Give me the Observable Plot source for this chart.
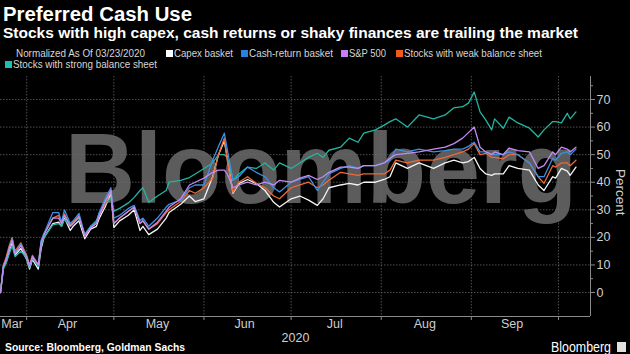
<!DOCTYPE html>
<html><head><meta charset="utf-8">
<script src="https://cdn.jsdelivr.net/npm/d3@7"></script>
<script src="https://cdn.jsdelivr.net/npm/@observablehq/plot@0.6"></script>
<style>
html,body{margin:0;padding:0;background:#000;width:630px;height:354px;overflow:hidden;}
#wrap{position:relative;width:630px;height:354px;font-family:"Liberation Sans",Arial,sans-serif;color:#fff;}
.abs{position:absolute;white-space:nowrap;line-height:1;transform-origin:0 50%;}
#title{top:4px;font-size:20px;font-weight:bold;}
#subtitle{top:25px;font-size:15.5px;font-weight:bold;}
.leg{font-size:10.8px;color:#d6d6d6;}
.sw{position:absolute;width:7px;height:7px;}
#wm{top:117.5px;font-size:101px;font-weight:bold;color:#5c5c5c;z-index:0;}
#chart{position:absolute;left:0;top:70px;z-index:1;}
#ylabel{position:absolute;left:613px;font-size:13.5px;color:#cfcfcf;writing-mode:vertical-rl;line-height:1;white-space:nowrap;z-index:2;}
#source{top:342px;font-size:10.5px;font-weight:bold;}
#logo{top:340px;font-size:14px;}
#logobox{position:absolute;left:617px;top:342px;width:9px;height:10px;background:#e0e0e0;}
</style></head>
<body>
<div id="wrap">
  <div id="title" class="abs">Preferred Cash Use</div>
  <div id="subtitle" class="abs">Stocks with high capex, cash returns or shaky finances are trailing the market</div>
  <div id="norm" class="abs leg" style="top:48px;">Normalized As Of 03/23/2020</div>
  <div id="legend"></div>
  <div id="wm" class="abs"></div>
  <div id="chart"></div>
  <div id="ylabel"></div>
  <div id="source" class="abs">Source: Bloomberg, Goldman Sachs</div>
  <div id="logo" class="abs">Bloomberg</div>
  <div id="logobox"></div>
</div>
<script>
const dates = ["2020-03-23","2020-03-24","2020-03-25","2020-03-26","2020-03-27","2020-03-28","2020-03-30","2020-04-01","2020-04-02","2020-04-03",
"2020-04-05","2020-04-06","2020-04-07","2020-04-10","2020-04-12","2020-04-13","2020-04-14","2020-04-16","2020-04-17","2020-04-19",
"2020-04-21","2020-04-23","2020-04-25","2020-04-26","2020-04-28","2020-04-30","2020-05-01","2020-05-03","2020-05-06","2020-05-08",
"2020-05-10","2020-05-11","2020-05-13","2020-05-16","2020-05-19","2020-05-20","2020-05-24","2020-05-27","2020-05-29","2020-06-01",
"2020-06-04","2020-06-06","2020-06-08","2020-06-09","2020-06-11","2020-06-13","2020-06-16","2020-06-19","2020-06-22","2020-06-25",
"2020-06-27","2020-07-01","2020-07-04","2020-07-07","2020-07-10","2020-07-12","2020-07-14","2020-07-18","2020-07-21","2020-07-24",
"2020-07-26","2020-07-30","2020-08-02","2020-08-04","2020-08-06","2020-08-10","2020-08-14","2020-08-19","2020-08-23","2020-08-26",
"2020-08-29","2020-08-31","2020-09-02","2020-09-04","2020-09-06","2020-09-08","2020-09-09","2020-09-12","2020-09-14","2020-09-17",
"2020-09-21","2020-09-24","2020-09-26","2020-09-29","2020-09-30","2020-10-02","2020-10-04","2020-10-05","2020-10-07"];

const capex = [0,9,11,15,18,13.5,16,12,8.5,12,
8.5,16,20,25,25.5,24,27,22.5,24,26,
19.5,23,24,27,31,36,23.6,26,28,30,
22.5,24,21,23,27,29,32,35,33,34,
42,50,55,49,36,39.5,41,39.5,37,32.7,
31,34,35,33.5,31.6,34,38,39,39.6,39,
40,40,41,42,47,45,47,45,47,48,
47,47.5,49,45,43,42.5,43,43,46,45,
44.4,39,37,42,41.5,45,44,42.5,45.5];

const cashReturn = [0,10,12,16,19.5,14.5,17.5,13,9.5,13,
10,19,21.5,29,29,25.5,30,25,26,28.7,
21,24,25.5,29,34,38,27,28,30.5,31.6,
26,27,24,27,31,32,33.5,38,39,39,
48,53,57.8,52,40.7,42,45.5,43.6,42,38,
36.5,40,41,42,37,40,43,45,46,45,
46,46,47,48,52,51,52,51,51.5,52,
52,53,54.5,51,51,50,50,50,51,50,
47,42,42,48.7,48,50.5,51,50,52];

const sp500 = [0,9.5,12,16,19,14,17,13,9.5,13,
10,18,21,27,27,25,28,24,25,27.5,
20.5,23.5,25,28,33,37,25,27,29.5,31,
25,26,23,25.5,29.5,31,34,39,40,41.5,
43.6,44.4,44.4,43,38,39,40,39,40,39,
40.7,40,41.5,42.5,41,42,43.6,45.5,45.5,45,
46,46,47,48.7,50,50.5,51,52,52.7,54,
56,58,60,52.7,51,50,51,50,52.4,51.5,
51,45,46,51,50,52.7,52,51,52.7];

const weakBS = [0,10,13,17,20,15,18,13.5,10,13.5,
10,18.5,21.5,27,28,25.5,28.5,24.5,25.5,28,
20.5,23.5,25,28,32,37,25,27,29.5,31,
25,26,23,25,29,30,33,37,36,38,
41.5,50,56,48,36.4,40,42,39.6,38,35,
34,38,39,40,38,39,40.7,43.6,43,42.5,
43,43,43,44.4,48,47,48,48,49,50,
51,52,54,50,50.5,49,49,48.5,50,50,
47,42,39.6,46,45.5,47,47,46,48];

const strongBS = [0,8.5,11,14,17,13,15,12.5,9,12.5,
9.5,17,20,24.5,25,24,26.5,24,25,27,
21,24,26,29,32,34.5,29.5,30.5,32.5,34.5,
37,38,32.7,35,37,40,40.7,41.7,43,45,
47,50,50,49,40.7,43,45.5,45,47,44.4,
47,45,47,49,50.5,49,51.6,52.7,56,54.5,
57.8,59,60.7,62,63,60,64.4,63,64.4,67,
67.4,68.7,72.7,65.5,62.5,59,63,59.6,63.6,61.5,
59.6,56.4,59,62,62,61.5,65,63,65.5];

const seriesNames = ["Capex basket","Cash-return basket","S&P 500","Stocks with weak balance sheet","Stocks with strong balance sheet"];
const seriesValues = [capex, cashReturn, sp500, weakBS, strongBS];
const lineColors = ["#f4f4f4","#3d8fe4","#c38cf0","#ee6a35","#23b5a2"];
const swatchColors = ["#ffffff","#2a80e0","#c77ef0","#f05a1a","#1cc0b0"];
const drawOrder = [0,4,3,1,2];

const yTicks = [0,10,20,30,40,50,60,70];
const yMinor = [5,15,25,35,45,55,65,75];
const monthStarts = ["2020-04-01","2020-05-01","2020-06-01","2020-07-01","2020-08-01","2020-09-01","2020-10-01"];
const monthLabelDates = ["2020-03-27","2020-04-15","2020-05-16","2020-06-15","2020-07-16","2020-08-16","2020-09-15"];
const yearLabel = ["2020"];
const yAxisLabel = "Percent";
const watermark = "Bloomberg";
const xDomain = ["2020-03-23","2020-10-12"];
const yDomain = [-8.7, 78.35];

const parse = d3.utcParse("%Y-%m-%d");

// fit a text element to a horizontal span (layout only)
function fit(el, left, width) {
  el.style.left = left + "px";
  const w = el.getBoundingClientRect().width;
  if (w > 0) el.style.transform = `scaleX(${width / w})`;
}

// legend
const legendSpans = [[166,174,59,48],[241,249,84,48],[341,349,37,48],[396,404,138,48],[5,13,144,59]];
const leg = document.getElementById("legend");
seriesNames.forEach((n,i)=>{
  const [sx, tx, tw, ty] = legendSpans[i];
  const sw = document.createElement("div");
  sw.className = "sw";
  sw.style.left = sx + "px"; sw.style.top = (ty + 1.5) + "px"; sw.style.background = swatchColors[i];
  leg.appendChild(sw);
  const t = document.createElement("div");
  t.className = "abs leg"; t.style.top = ty + "px"; t.textContent = n;
  leg.appendChild(t);
  fit(t, tx, tw);
});
fit(document.getElementById("norm"), 16, 129);
fit(document.getElementById("title"), 3, 189);
fit(document.getElementById("subtitle"), 3, 575);
fit(document.getElementById("source"), 5, 180);
fit(document.getElementById("logo"), 551, 60);
const wmEl = document.getElementById("wm");
wmEl.textContent = watermark;
fit(wmEl, 65, 512);

const data = drawOrder.flatMap(k => dates.map((d,i)=>({date: parse(d), value: seriesValues[k][i], name: seriesNames[k]})));

const gridStyle = {stroke:"#6a6a6a", strokeOpacity:0.75, strokeDasharray:"1.5,1.5"};
const fontFam = "'Liberation Sans',Arial,sans-serif";

const chart = Plot.plot({
  width: 630, height: 284,
  marginTop: 6, marginBottom: 38, marginLeft: 0, marginRight: 40,
  style: {background: "transparent", color: "#cfcfcf", fontFamily: fontFam, fontSize: "12.5px"},
  x: {type: "utc", domain: xDomain.map(parse)},
  y: {domain: yDomain},
  color: {domain: seriesNames, range: lineColors},
  marks: [
    Plot.ruleY(yTicks, gridStyle),
    Plot.ruleX(monthStarts.map(parse), gridStyle),
    Plot.ruleY([yDomain[0]], {stroke: "#8a8a8a"}),
    Plot.ruleX([parse(xDomain[1])], {stroke: "#8a8a8a"}),
    Plot.axisY({anchor: "right", ticks: yTicks, tickSize: 4, tickPadding: 2, label: null, stroke: "#8a8a8a"}),
    Plot.axisY({anchor: "right", ticks: yMinor, tickSize: 2, tickFormat: () => "", label: null, stroke: "#8a8a8a"}),
    Plot.axisX({ticks: monthStarts.map(parse), tickSize: 4, tickFormat: () => "", label: null, stroke: "#8a8a8a"}),
    Plot.axisX({ticks: monthLabelDates.map(parse), tickSize: 0, tickPadding: 3, tickFormat: d3.utcFormat("%b"), label: null}),
    Plot.text(yearLabel, {frameAnchor: "bottom", dy: 25, text: d => d, fill: "#cfcfcf", fontSize: 12.5}),
    Plot.lineY(data, {x: "date", y: "value", stroke: "name", z: "name", strokeWidth: 1.3})
  ]
});
document.getElementById("chart").appendChild(chart);

// vertical axis title, centred just below the 40 gridline as in the reference
const yl = document.getElementById("ylabel");
yl.textContent = yAxisLabel;
const h = yl.getBoundingClientRect().height;
yl.style.top = (192 - h / 2) + "px";
</script>
</body></html>
